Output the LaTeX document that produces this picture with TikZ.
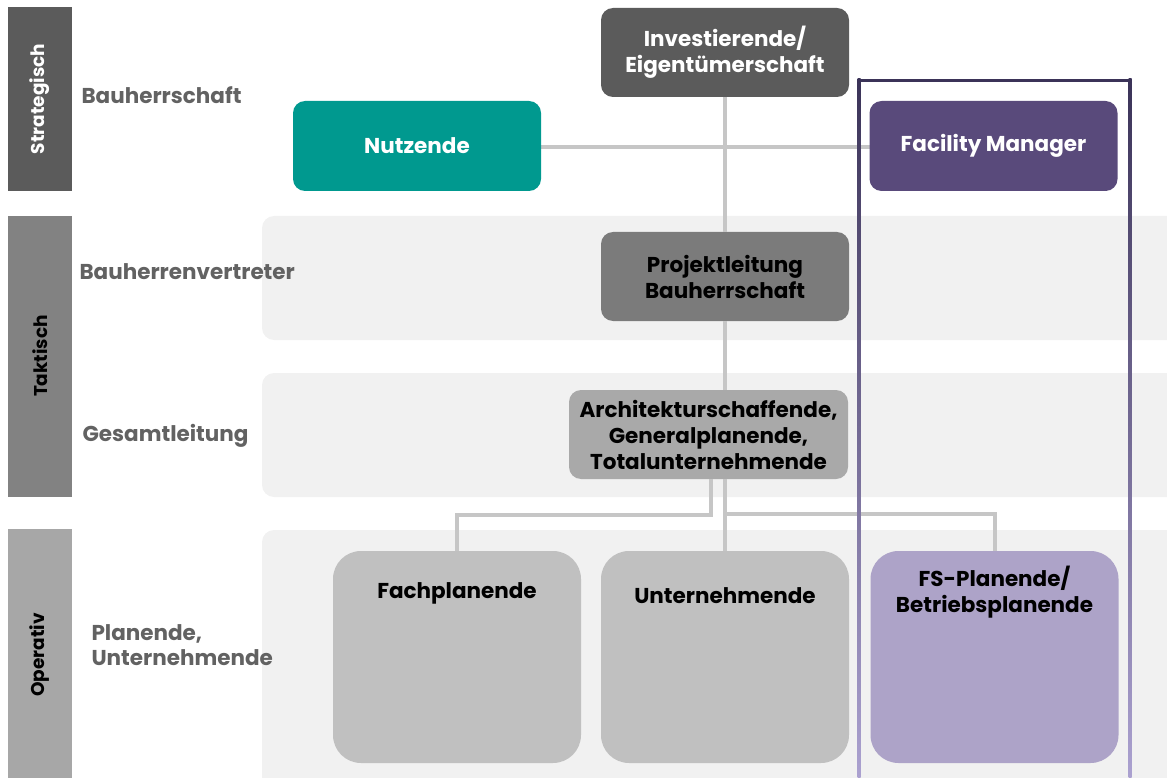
\documentclass[tikz,border=0pt]{standalone}
\usepackage{fontspec}
\setmainfont{Poppins}

\definecolor{stratgray}{HTML}{5B5B5B}
\definecolor{taktgray}{HTML}{828282}
\definecolor{opgray}{HTML}{A7A7A7}
\definecolor{labelgray}{HTML}{626262}
\definecolor{bandgray}{HTML}{F1F1F1}
\definecolor{nutzteal}{HTML}{00998F}
\definecolor{fmpurple}{HTML}{594A7B}
\definecolor{projgray}{HTML}{7B7B7B}
\definecolor{archgray}{HTML}{A9A9A9}
\definecolor{opbox}{HTML}{C0C0C0}
\definecolor{fslila}{HTML}{ADA3C8}
\definecolor{linegray}{HTML}{C6C6C6}
\definecolor{frametop}{HTML}{3B3358}
\definecolor{framebot}{HTML}{ABA1D0}

\begin{document}
\begin{tikzpicture}[x=1pt, y=-1pt,
  box/.style={rounded corners=12pt, minimum width=248pt, minimum height=89pt,
    align=center, font=\fontsize{21.5}{26}\selectfont\bfseries, inner sep=0pt},
  bigbox/.style={rounded corners=28pt, minimum width=248pt, minimum height=212pt, inner sep=0pt},
  bar/.style={font=\fontsize{18.5}{20}\selectfont\bfseries, rotate=90},
  level/.style={anchor=west, align=left, text=labelgray,
    font=\fontsize{21.5}{25}\selectfont\bfseries},
  conn/.style={draw=linegray, line width=4pt}]
  \useasboundingbox (0,0) rectangle (1167,778);

  % left bars
  \fill[stratgray] (8,7) rectangle (72,191);
  \fill[taktgray] (8,216) rectangle (72,497);
  \fill[opgray] (8,529) rectangle (72,778);
  \node[bar, text=white] (strat) at (40,99) {Strategisch};
  \node[bar] (takt) at (40,356) {Taktisch};
  \node[bar] (oper) at (40,655) {Operativ};

  % light bands
  \fill[bandgray, rounded corners=12pt] (262,216) rectangle (1190,340);
  \fill[bandgray, rounded corners=12pt] (262,373) rectangle (1190,497);
  \fill[bandgray, rounded corners=12pt] (262,530) rectangle (1190,800);

  \node[level] (lbauherr) at (78,95) {Bauherrschaft};
  \node[level] (lvertr) at (76,272) {Bauherrenvertreter};
  \node[level] (lgesamt) at (79,436) {Gesamtleitung};
  \node[level] (lplan) at (88,645) {Planende,\\Unternehmende};

  % connectors
  \coordinate (busL) at (711,515);
  \coordinate (busR) at (725,514);
  \coordinate (nutzE) at (541,147);
  \coordinate (fmW) at (870,147);
  \draw[conn] (nutzE) -- (fmW);

  % boxes
  \node[box, fill=stratgray, text=white] (invest) at (725,52.5) {Investierende/\\Eigentümerschaft};
  \node[box, fill=nutzteal, text=white, minimum height=90pt] (nutz) at (417,146) {Nutzende};
  \node[box, fill=fmpurple, text=white, minimum height=90pt] (fm) at (993.5,146) {Facility Manager};
  \node[box, fill=projgray] (proj) at (725,276.5) {Projektleitung\\Bauherrschaft};
  \node[box, fill=archgray, minimum width=279pt] (arch) at (708.5,434.5)
    {Architekturschaffende,\\Generalplanende,\\Totalunternehmende};

  \node[bigbox, fill=opbox] (fach) at (457,657) {};
  \node[bigbox, fill=opbox] (unt) at (725,657) {};
  \node[bigbox, fill=fslila] (fs) at (994.5,657) {};
  \node[box, minimum height=0pt] (tfach) at (457,593) {Fachplanende};
  \node[box, minimum height=0pt] (tunt) at (725,596) {Unternehmende};
  \node[box, minimum height=0pt] (tfs) at (994.5,592) {FS-Planende/\\Betriebsplanende};

  \draw[conn] (invest.south) -- (proj.north);
  \draw[conn] (proj.south) -- (proj.south |- arch.north);
  \draw[conn] (busL |- arch.south) -- (busL) -| (fach.north);
  \draw[conn] (unt.north |- arch.south) -- (unt.north);
  \draw[conn] (busR) -| (fs.north);

  % FM frame
  \shade[top color=frametop, bottom color=framebot] (857.5,79) rectangle (860.5,778);
  \shade[top color=frametop, bottom color=framebot] (1128.5,79) rectangle (1131.5,778);
  \fill[frametop] (857.5,79) rectangle (1131.5,82);
\end{tikzpicture}
\end{document}
